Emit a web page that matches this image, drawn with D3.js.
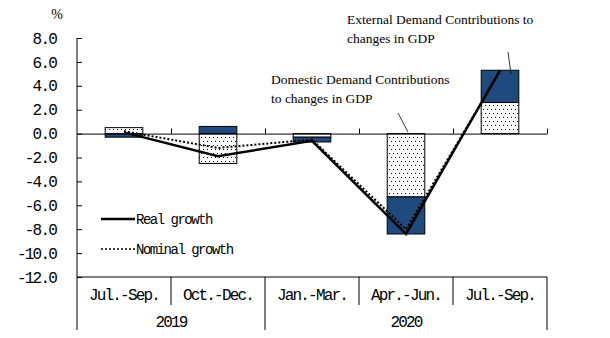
<!DOCTYPE html>
<html>
<head>
<meta charset="utf-8">
<script src="https://cdn.jsdelivr.net/npm/d3@7"></script>
<style>
  body { margin: 0; background: #fff; }
  svg { display: block; }
</style>
</head>
<body>
<div id="chart"></div>
<script>
// data
var quarters = ["Jul.-Sep.", "Oct.-Dec.", "Jan.-Mar.", "Apr.-Jun.", "Jul.-Sep."];
var years = ["2019", "2020"];
var yearSpans = [2, 3]; // number of quarters under each year
var domestic = [0.5, -2.5, -0.3, -5.3, 2.6];
var external = [-0.3, 0.6, -0.4, -3.1, 2.7];
var realGrowth = [0.1, -1.9, -0.6, -8.4, 5.3];
var nominalGrowth = [0.2, -1.2, -0.5, -8.0, 5.2];
var yTicks = [8, 6, 4, 2, 0, -2, -4, -6, -8, -10, -12];

var W = 610, H = 338;
var plotLeft = 77, plotRight = 547, plotTop = 38, plotBottom = 277;
var navy = "#1f4a7e";
var monoFont = "'Liberation Mono', 'DejaVu Sans Mono', monospace";
var serifFont = "'Liberation Serif', 'DejaVu Serif', serif";

var svg = d3.select("#chart").append("svg")
    .attr("width", W)
    .attr("height", H);

// dotted fill
var pat = svg.append("defs").append("pattern")
    .attr("id", "dots")
    .attr("patternUnits", "userSpaceOnUse")
    .attr("width", 4).attr("height", 8);
pat.append("rect").attr("width", 4).attr("height", 8).attr("fill", "#fff");
pat.append("rect").attr("x", 1).attr("y", 1).attr("width", 1).attr("height", 1).attr("fill", "#000");
pat.append("rect").attr("x", 3).attr("y", 5).attr("width", 1).attr("height", 1).attr("fill", "#000");

var x = d3.scaleBand()
    .domain(d3.range(quarters.length))
    .range([plotLeft, plotRight])
    .paddingInner(0.6)
    .paddingOuter(0.3);

var xb = d3.scaleLinear()
    .domain([0, quarters.length])
    .range([plotLeft, plotRight]);

var y = d3.scaleLinear()
    .domain([-12, 8])
    .range([plotBottom, plotTop]);

// stacked bars
var rows = quarters.map(function (q, i) {
    return { i: i, domestic: domestic[i], external: external[i] };
});
var series = d3.stack()
    .keys(["domestic", "external"])
    .offset(d3.stackOffsetDiverging)(rows);

svg.append("g")
    .selectAll("g")
    .data(series)
    .enter()
    .append("g")
    .attr("fill", function (s) { return s.key == "domestic" ? "url(#dots)" : navy; })
    .selectAll("rect")
    .data(function (s) { return s; })
    .enter()
    .append("rect")
    .attr("x", function (d) { return x(d.data.i); })
    .attr("width", x.bandwidth())
    .attr("y", function (d) { return y(Math.max(d[0], d[1])); })
    .attr("height", function (d) { return Math.abs(y(d[0]) - y(d[1])); })
    .attr("stroke", "#000")
    .attr("stroke-width", 1);

// Y axis
var yAxis = svg.append("g")
    .attr("transform", "translate(" + plotLeft + ",0)")
    .call(d3.axisLeft(y)
        .tickValues(yTicks)
        .tickSizeInner(-5)
        .tickSizeOuter(0)
        .tickPadding(21));
yAxis.select(".domain").remove();
yAxis.selectAll("line").attr("stroke", "#000");
yAxis.selectAll("text")
    .attr("font-family", monoFont)
    .attr("font-size", 16)
    .attr("letter-spacing", -1.8)
    .attr("fill", "#000")
    .text(function (d) { return d.toFixed(1); });

// y axis line, continued down through the table
svg.append("line")
    .attr("x1", plotLeft).attr("x2", plotLeft)
    .attr("y1", y(8)).attr("y2", 330)
    .attr("stroke", "#000");

// zero line with category ticks
var xAxis = svg.append("g")
    .attr("transform", "translate(0," + y(0) + ")")
    .call(d3.axisTop(xb)
        .tickValues(d3.range(1, quarters.length + 1))
        .tickFormat("")
        .tickSizeInner(5)
        .tickSizeOuter(0));
xAxis.selectAll("line, path").attr("stroke", "#000");

// % unit
svg.append("text")
    .attr("x", 57).attr("y", 19)
    .attr("text-anchor", "middle")
    .attr("font-family", serifFont)
    .attr("font-size", 14)
    .text("%");

// growth lines
var line = d3.line()
    .x(function (d, i) { return x(i) + x.bandwidth() / 2; })
    .y(function (d) { return y(d); });

svg.append("path")
    .datum(nominalGrowth)
    .attr("d", line)
    .attr("fill", "none")
    .attr("stroke", "#000")
    .attr("stroke-width", 2)
    .attr("stroke-dasharray", "2,2");

svg.append("path")
    .datum(realGrowth)
    .attr("d", line)
    .attr("fill", "none")
    .attr("stroke", "#000")
    .attr("stroke-width", 2.5);

// legend
var legend = [
    { label: "Real growth", dash: null, w: 2.5, y: 219 },
    { label: "Nominal growth", dash: "2,2", w: 1.5, y: 249 }
];
legend.forEach(function (l) {
    svg.append("line")
        .attr("x1", 101).attr("x2", 135)
        .attr("y1", l.y).attr("y2", l.y)
        .attr("stroke", "#000")
        .attr("stroke-width", l.w)
        .attr("stroke-dasharray", l.dash);
    svg.append("text")
        .attr("x", 136).attr("y", l.y)
        .attr("dy", "0.35em")
        .attr("font-family", monoFont)
        .attr("font-size", 14)
        .attr("letter-spacing", -1.5)
        .text(l.label);
});

// annotations
function note(lines, tx, ty, x1, y1, x2, y2) {
    var t = svg.append("text")
        .attr("font-family", serifFont)
        .attr("font-size", 13.5);
    lines.forEach(function (s, k) {
        t.append("tspan").attr("x", tx).attr("y", ty + k * 19).text(s);
    });
    svg.append("line")
        .attr("x1", x1).attr("y1", y1)
        .attr("x2", x2).attr("y2", y2)
        .attr("stroke", "#000")
        .attr("stroke-width", 0.8);
}
note(["Domestic Demand Contributions", "to changes in GDP"], 271, 84, 398, 113, 408, 132);
note(["External  Demand Contributions to", "changes in GDP"], 347, 24, 508, 52, 511, 74);

// category table under the plot
var table = svg.append("g");
table.append("line")
    .attr("x1", plotLeft).attr("x2", plotRight)
    .attr("y1", plotBottom).attr("y2", plotBottom)
    .attr("stroke", "#000");

// quarter dividers (short) and year dividers (long)
var yearEdges = [0];
yearSpans.forEach(function (n, k) { yearEdges.push(yearEdges[k] + n); });
table.selectAll(".qdiv")
    .data(d3.range(1, quarters.length + 1))
    .enter()
    .append("line")
    .attr("x1", function (d) { return xb(d); })
    .attr("x2", function (d) { return xb(d); })
    .attr("y1", plotBottom)
    .attr("y2", function (d) { return yearEdges.indexOf(d) >= 0 ? 330 : 305; })
    .attr("stroke", "#000");

table.selectAll(".qlab")
    .data(quarters)
    .enter()
    .append("text")
    .attr("x", function (d, i) { return xb(i + 0.5); })
    .attr("y", 294)
    .attr("dy", "0.35em")
    .attr("text-anchor", "middle")
    .attr("font-family", monoFont)
    .attr("font-size", 16)
    .attr("letter-spacing", -1.8)
    .text(function (d) { return d; });

table.selectAll(".ylab")
    .data(years)
    .enter()
    .append("text")
    .attr("x", function (d, k) { return xb((yearEdges[k] + yearEdges[k + 1]) / 2); })
    .attr("y", 321)
    .attr("dy", "0.35em")
    .attr("text-anchor", "middle")
    .attr("font-family", monoFont)
    .attr("font-size", 16)
    .attr("letter-spacing", -1.8)
    .text(function (d) { return d; });
</script>
</body>
</html>
